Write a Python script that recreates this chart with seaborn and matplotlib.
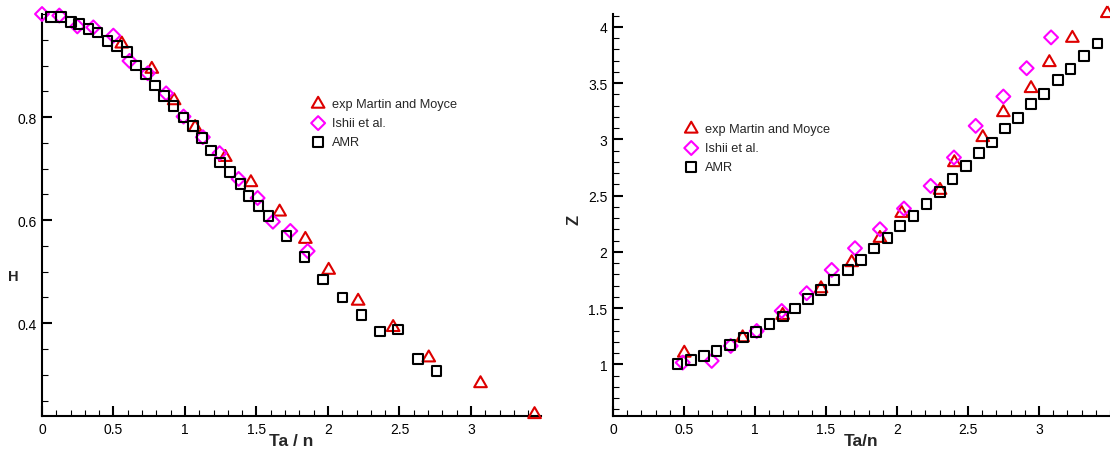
import matplotlib
matplotlib.use("Agg")
import matplotlib.pyplot as plt
import seaborn as sns
from matplotlib.path import Path
from matplotlib.ticker import MultipleLocator

# ---------------- Data: left panel (H vs Ta/n) ----------------
h_exp_x = [0.558, 0.768, 0.924, 1.071, 1.282, 1.461, 1.662, 1.842, 2.005, 2.211, 2.456, 2.705, 3.067, 3.445]
h_exp_y = [0.942, 0.893, 0.832, 0.780, 0.722, 0.673, 0.616, 0.563, 0.503, 0.443, 0.392, 0.333, 0.283, 0.223]

h_ishii_x = [0.0, 0.121, 0.247, 0.359, 0.499, 0.612, 0.740, 0.868, 0.990, 1.125, 1.242, 1.375, 1.508, 1.615, 1.737, 1.858]
h_ishii_y = [1.0, 0.997, 0.976, 0.974, 0.958, 0.909, 0.885, 0.846, 0.801, 0.761, 0.730, 0.680, 0.643, 0.597, 0.579, 0.540]

h_amr_x = [0.061, 0.133, 0.201, 0.259, 0.324, 0.387, 0.457, 0.523, 0.593, 0.658, 0.726, 0.791, 0.854, 0.920,
           0.990, 1.055, 1.118, 1.183, 1.246, 1.317, 1.387, 1.445, 1.515, 1.585, 1.709, 1.835, 1.965, 2.101,
           2.234, 2.362, 2.491, 2.628, 2.759]
h_amr_y = [0.994, 0.994, 0.984, 0.981, 0.971, 0.964, 0.948, 0.938, 0.926, 0.900, 0.883, 0.861, 0.841, 0.822,
           0.799, 0.783, 0.760, 0.735, 0.712, 0.693, 0.670, 0.647, 0.628, 0.608, 0.569, 0.529, 0.485, 0.450,
           0.416, 0.384, 0.388, 0.331, 0.307]

# ---------------- Data: right panel (Z vs Ta/n) ----------------
z_exp_x = [0.502, 0.913, 1.195, 1.465, 1.681, 1.880, 2.033, 2.303, 2.404, 2.604, 2.749, 2.944, 3.073, 3.235, 3.481]
z_exp_y = [1.100, 1.237, 1.436, 1.673, 1.905, 2.121, 2.343, 2.548, 2.794, 3.017, 3.239, 3.453, 3.684, 3.900, 4.120]

z_ishii_x = [0.491, 0.695, 0.829, 1.012, 1.188, 1.364, 1.540, 1.704, 1.880, 2.049, 2.237, 2.401, 2.554, 2.749, 2.913, 3.085]
z_ishii_y = [1.015, 1.030, 1.163, 1.296, 1.474, 1.632, 1.839, 2.032, 2.201, 2.385, 2.586, 2.839, 3.120, 3.381, 3.633, 3.907]

z_amr_x = [0.455, 0.549, 0.641, 0.730, 0.824, 0.918, 1.007, 1.101, 1.195, 1.282, 1.375, 1.465, 1.555, 1.653,
           1.746, 1.840, 1.932, 2.023, 2.115, 2.209, 2.303, 2.392, 2.484, 2.577, 2.671, 2.761, 2.854, 2.944,
           3.037, 3.132, 3.223, 3.317, 3.411]
z_amr_y = [1.000, 1.038, 1.074, 1.119, 1.169, 1.237, 1.288, 1.356, 1.424, 1.495, 1.578, 1.661, 1.748, 1.836,
           1.928, 2.029, 2.121, 2.227, 2.319, 2.424, 2.533, 2.646, 2.764, 2.877, 2.972, 3.097, 3.189, 3.313,
           3.402, 3.527, 3.625, 3.743, 3.853]

labels = ["exp Martin and Moyce", "Ishii et al.", "AMR"]

# ---------------- Style ----------------
sns.set_theme(style="ticks")
plt.rcParams["font.family"] = ["Liberation Sans", "DejaVu Sans"]

RED = "#dd0000"
MAG = "#ff00ff"
BLK = "#000000"
TRI = Path([(0, 1), (-0.866, -0.5), (0.866, -0.5), (0, 1)],
           [Path.MOVETO, Path.LINETO, Path.LINETO, Path.CLOSEPOLY])

fig = plt.figure(figsize=(11.10, 4.52), dpi=100)
axL = fig.add_axes([42 / 1110, 1 - 417 / 452, 499 / 1110, 402 / 452])
axR = fig.add_axes([613 / 1110, 1 - 417 / 452, 497 / 1110, 402 / 452])


def draw(ax, ex, ey, ix, iy, ax_, ay):
    sns.scatterplot(x=ex, y=ey, ax=ax, marker=TRI, s=110, facecolor="none", edgecolor=RED,
                    linewidth=1.5, label=labels[0], clip_on=False, zorder=3)
    sns.scatterplot(x=ix, y=iy, ax=ax, marker="D", s=50, facecolor="none", edgecolor=MAG,
                    linewidth=1.5, label=labels[1], clip_on=False, zorder=4)
    sns.scatterplot(x=ax_, y=ay, ax=ax, marker="s", s=48, facecolor="none", edgecolor=BLK,
                    linewidth=1.5, label=labels[2], clip_on=False, zorder=5)


draw(axL, h_exp_x, h_exp_y, h_ishii_x, h_ishii_y, h_amr_x, h_amr_y)
draw(axR, z_exp_x, z_exp_y, z_ishii_x, z_ishii_y, z_amr_x, z_amr_y)

for ax in (axL, axR):
    sns.despine(ax=ax)
    for sp in ("left", "bottom"):
        ax.spines[sp].set_linewidth(1.5)
        ax.spines[sp].set_color("black")
    ax.tick_params(which="major", direction="in", length=7, width=1.5, labelsize=10, pad=4, colors="black")
    ax.tick_params(which="minor", direction="in", length=4.5, width=0.8, colors="black")
    ax.xaxis.set_minor_locator(MultipleLocator(0.1))
    ax.set_xticks([0, 0.5, 1, 1.5, 2, 2.5, 3])
    ax.set_xticklabels(["0", "0.5", "1", "1.5", "2", "2.5", "3"])

axL.set_xlim(0, 3.49)
axL.set_ylim(0.22, 1.0)
axL.set_yticks([0.4, 0.6, 0.8])
axL.set_yticklabels(["0.4", "0.6", "0.8"])
axL.yaxis.set_minor_locator(MultipleLocator(0.05))
axL.set_xlabel("Ta / n", fontsize=12.5, fontweight="bold", labelpad=-1.5)
axL.set_ylabel("H", fontsize=10.5, fontweight="bold", rotation=0, ha="center", va="center")
axL.yaxis.set_label_coords(-0.058, 0.348)

axR.set_xlim(0, 3.5)
axR.set_ylim(0.54, 4.115)
axR.set_yticks([1, 1.5, 2, 2.5, 3, 3.5, 4])
axR.set_yticklabels(["1", "1.5", "2", "2.5", "3", "3.5", "4"])
axR.yaxis.set_minor_locator(MultipleLocator(0.1))
axR.set_xlabel("Ta/n", fontsize=12.5, fontweight="bold", labelpad=-1.5)
axR.set_ylabel("Z", fontsize=12, fontweight="bold", ha="center", va="center")
axR.yaxis.set_label_coords(-0.079, 0.49)

for ax, anchor in ((axL, (0.538, 0.79)), (axR, (0.142, 0.728))):
    ax.legend(loc="upper left", bbox_to_anchor=anchor, frameon=False, fontsize=9.2,
              handlelength=1.2, handletextpad=0.5, labelspacing=0.55, borderaxespad=0, borderpad=0)

fig.savefig("out.png", dpi=100)
